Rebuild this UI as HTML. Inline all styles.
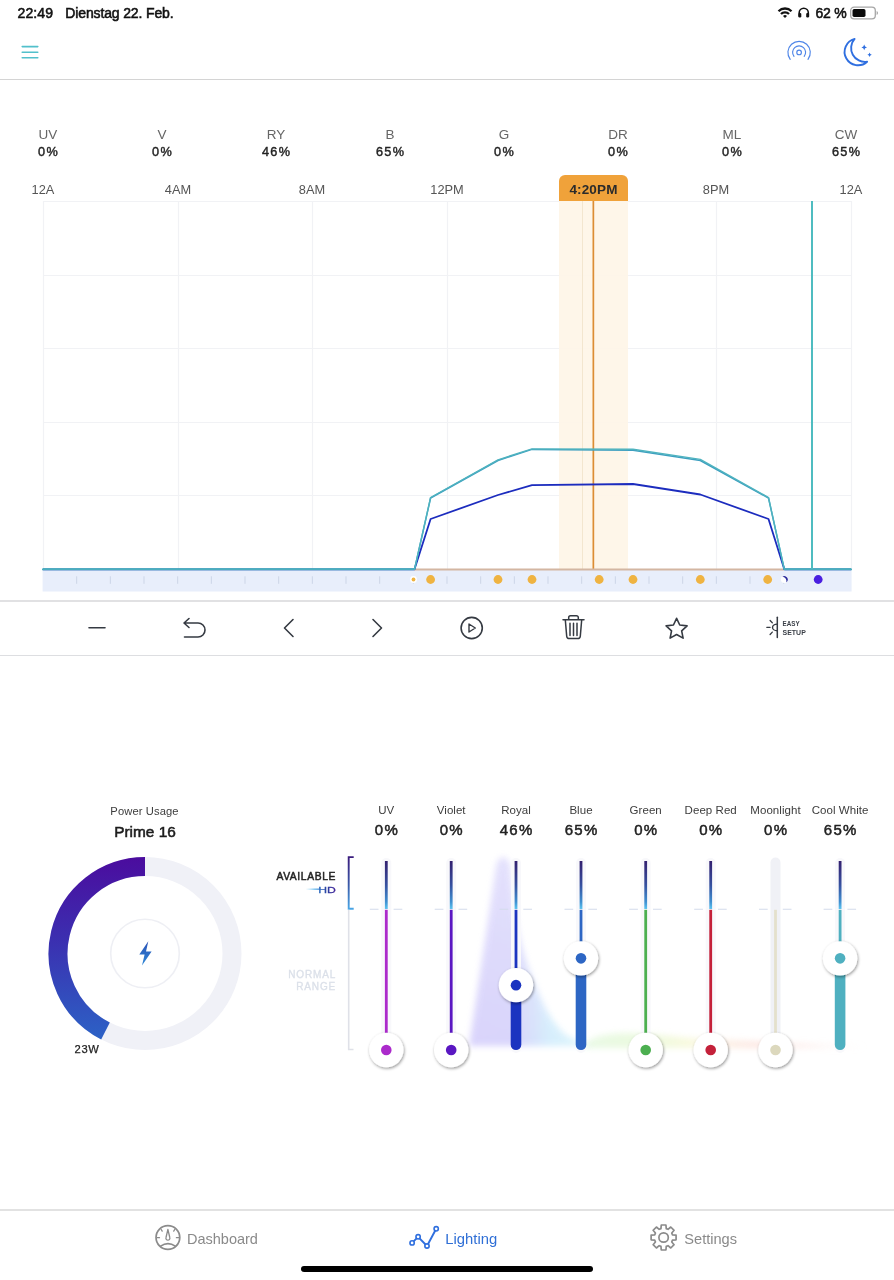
<!DOCTYPE html>
<html lang="de">
<head>
<meta charset="utf-8">
<title>Lighting</title>
<style>
html,body{margin:0;padding:0;background:#fff;}
body{width:894px;height:1280px;position:relative;overflow:hidden;font-family:"Liberation Sans",sans-serif;color:#222;}
.abs{position:absolute;}
.t{position:absolute;white-space:nowrap;line-height:1;}
.c{transform:translateX(-50%);}
.r{transform:translateX(-100%);}
.hline{position:absolute;left:0;width:894px;height:1px;background:#d9d9d9;}
.chl{font-size:13.5px;color:#666;}
.chv{font-size:12.700px;color:#222;-webkit-text-stroke:.42px #222;letter-spacing:1.400px;margin-left:.7px;}
.ax{font-size:12.800px;color:#555;}
.sl{font-size:11.500px;color:#3c3c3c;letter-spacing:.05px;}
.sv{font-size:15px;color:#222;-webkit-text-stroke:.5px #222;letter-spacing:1.300px;margin-left:.65px;}
.sb{-webkit-text-stroke:.55px currentColor;}
svg text{font-family:"Liberation Sans",sans-serif;}
</style>
</head>
<body>

<!-- status bar -->
<div class="t sb" style="left:17.5px;top:6px;font-size:14px;color:#111;letter-spacing:.12px">22:49</div>
<div class="t sb" style="left:65.3px;top:6px;font-size:14px;color:#111;letter-spacing:-.14px">Dienstag 22. Feb.</div>
<div class="t sb" style="left:815.5px;top:6px;font-size:14px;color:#111;letter-spacing:-.25px">62 %</div>
<svg class="abs" style="left:770px;top:0" width="124" height="26" viewBox="0 0 124 26">
  <g fill="none" stroke="#111" stroke-width="2.300">
    <path d="M8.5 11.2 A9.2 9.2 0 0 1 21.5 11.2"/>
    <path d="M11 14 A5.6 5.6 0 0 1 19 14"/>
  </g>
  <path d="M13 16 A2.9 2.9 0 0 1 17 16 L15 18.1 Z" fill="#111"/>
  <path d="M29.200 16.500 V12.800 A4.550 4.550 0 0 1 38.300 12.800 V16.500" fill="none" stroke="#111" stroke-width="1.600"/>
  <rect x="28.400" y="12.900" width="2.900" height="4.600" rx="1.200" fill="#111"/>
  <rect x="36.200" y="12.900" width="2.900" height="4.600" rx="1.200" fill="#111"/>
  <rect x="80.700" y="7.200" width="24.600" height="11.600" rx="3.400" fill="none" stroke="#a6a6a6" stroke-width="1.300"/>
  <rect x="82.500" y="9" width="13" height="8" rx="1.700" fill="#0a0a0a"/>
  <path d="M106.600 11.100 v3.800 a2 2 0 0 0 0 -3.800z" fill="#a3a3a3"/>
</svg>


<!-- header -->
<svg class="abs" style="left:20px;top:44px" width="20" height="16" viewBox="0 0 20 16">
  <path d="M2.200 2.600H17.800M2.200 8.200H17.800M2.200 13.800H17.800" stroke="#52c0cb" stroke-width="1.550" stroke-linecap="round"/>
</svg>
<svg class="abs" style="left:780px;top:30px" width="40" height="45" viewBox="780 30 40 45">
  <g fill="none" stroke="#4f86e8" stroke-width="1.150" stroke-linecap="round">
    <circle cx="799.100" cy="52.400" r="2.300"/>
    <path d="M794 56.400 A6.500 6.500 0 1 1 804.200 56.400"/>
    <path d="M790.200 59.300 A11.200 11.200 0 1 1 808 59.300"/>
  </g>
</svg>
<svg class="abs" style="left:835px;top:30px" width="45" height="45" viewBox="835 30 45 45">
  <path d="M854.600 38.900 A13.400 13.400 0 1 0 867.100 61.700 A13.800 13.800 0 0 1 854.600 38.900 Z" fill="none" stroke="#2f6fe0" stroke-width="1.900" stroke-linejoin="round"/>
  <path d="M864.200 44.600 l.9 1.900 1.900 .9 -1.900 .9 -.9 1.900 -.9 -1.900 -1.900 -.9 1.900 -.9z" fill="#2f6fe0"/>
  <path d="M869.600 52.600 l.7 1.500 1.500 .7 -1.500 .7 -.7 1.500 -.7 -1.500 -1.500 -.7 1.500 -.7z" fill="#2f6fe0"/>
</svg>
<div class="hline" style="top:79px;background:#d4d4d4"></div>

<!-- channel readouts -->
<div class="t c chl" style="left:48px;top:127.5px">UV</div><div class="t c chv" style="left:48px;top:146.100px">0%</div>
<div class="t c chl" style="left:162px;top:127.5px">V</div><div class="t c chv" style="left:162px;top:146.100px">0%</div>
<div class="t c chl" style="left:276px;top:127.5px">RY</div><div class="t c chv" style="left:276px;top:146.100px">46%</div>
<div class="t c chl" style="left:390px;top:127.5px">B</div><div class="t c chv" style="left:390px;top:146.100px">65%</div>
<div class="t c chl" style="left:504px;top:127.5px">G</div><div class="t c chv" style="left:504px;top:146.100px">0%</div>
<div class="t c chl" style="left:618px;top:127.5px">DR</div><div class="t c chv" style="left:618px;top:146.100px">0%</div>
<div class="t c chl" style="left:732px;top:127.5px">ML</div><div class="t c chv" style="left:732px;top:146.100px">0%</div>
<div class="t c chl" style="left:846px;top:127.5px">CW</div><div class="t c chv" style="left:846px;top:146.100px">65%</div>

<!-- chart -->
<svg class="abs" style="left:0;top:170px" width="894" height="430" viewBox="0 170 894 430">
  <g stroke="#f1f2f5" stroke-width="1.200" fill="none">
    <path d="M43 201.500H851M43 275.500H851M43 348.500H851M43 422.500H851M43 495.500H851"/>
    <path d="M43.500 201V569M178.500 201V569M312.500 201V569M447.500 201V569M582.500 201V569M716.500 201V569M851.500 201V569"/>
  </g>
  <rect x="42.600" y="570" width="809" height="21.500" fill="#e8eefb"/>
  <path d="M76.67 576.3v7.5M110.33 576.3v7.5M144 576.3v7.5M177.67 576.3v7.5M211.34 576.3v7.5M245 576.3v7.5M278.67 576.3v7.5M312.34 576.3v7.5M346 576.3v7.5M379.67 576.3v7.5M413.34 576.3v7.5M447 576.3v7.5M480.67 576.3v7.5M514.34 576.3v7.5M548 576.3v7.5M581.67 576.3v7.5M615.34 576.3v7.5M649.01 576.3v7.5M682.67 576.3v7.5M716.34 576.3v7.5M750.01 576.3v7.5M783.67 576.3v7.5M817.34 576.3v7.5" stroke="#ccd5e7" stroke-width="1"/>
  <path d="M559 201V181a6 6 0 0 1 6 -6h57a6 6 0 0 1 6 6V201Z" fill="#f0a23a"/>
  <rect x="559" y="201" width="69" height="368" fill="#fef5e7" fill-opacity=".92"/>
  <path d="M582.500 201V569" stroke="#f3e6cf" stroke-width="1"/>
  <rect x="592.500" y="201" width="1.700" height="368" fill="#dc8d34"/>
  <path d="M414 569.600H784" stroke="#d3b6a2" stroke-width="2"/>
  <g fill="none" stroke-linejoin="round" stroke-width="1.500">
    <path d="M43 569.300H414.500L430.600 519L498 495L532 485.200L633 484L700.300 494.500L768.500 519L784.300 569.300H851" stroke="#1c2cbe" stroke-width="1.800"/>
    <path d="M43 569.300H414.500L430.600 498L498 460.500L532 449.400L633 450.200L700.300 460.500L768.500 498L784.300 569.300H851" stroke="#3d9fc0"/>
    <path d="M43 569.300H414.500L430.600 497.500L498 459.800L532 448.900L633 449.200L700.300 459.400L768.500 497.500L784.300 569.300H851" stroke="#4fb3bf" stroke-width="1.400"/>
  </g>
  <path d="M42 569.300H414M784.500 569.300H852" stroke="#4aaebd" stroke-width="1.800"/>
  <rect x="811" y="201" width="2" height="368" fill="#4fbcc0"/>
  <g fill="#efb341">
    <circle cx="430.600" cy="579.500" r="4.400"/><circle cx="498" cy="579.500" r="4.400"/><circle cx="532" cy="579.500" r="4.400"/>
    <circle cx="599.200" cy="579.500" r="4.400"/><circle cx="633" cy="579.500" r="4.400"/><circle cx="700.300" cy="579.500" r="4.400"/><circle cx="767.700" cy="579.500" r="4.400"/>
  </g>
  <circle cx="413.500" cy="579.500" r="3.400" fill="#fff"/><circle cx="413.500" cy="579.500" r="1.900" fill="#efb341"/>
  <circle cx="784.300" cy="579.500" r="3.400" fill="#fff"/><path d="M784.300 576.100a3.400 3.400 0 0 1 0 6.800a4.400 4.400 0 0 0 0 -6.800z" fill="#2a2a9c" transform="rotate(-35 784.300 579.500)"/>
  <circle cx="818.200" cy="579.500" r="4.400" fill="#4a1fe0"/>
  <text x="569.400" y="193.700" font-size="13.500" font-weight="bold" fill="#2b2b2b" textLength="48" lengthAdjust="spacing">4:20PM</text>
</svg>

<div class="t c ax" style="left:43px;top:184px">12A</div>
<div class="t c ax" style="left:178px;top:184px">4AM</div>
<div class="t c ax" style="left:312px;top:184px">8AM</div>
<div class="t c ax" style="left:447px;top:184px">12PM</div>
<div class="t c ax" style="left:716px;top:184px">8PM</div>
<div class="t c ax" style="left:851px;top:184px">12A</div>

<!-- toolbar -->
<div class="hline" style="top:600.200px;height:1.500px;background:#e1e1e3"></div>
<div class="hline" style="top:654.800px;height:1.300px;background:#dddee1"></div>
<svg class="abs" style="left:0;top:602px" width="894" height="53" viewBox="0 602 894 53">
  <g fill="none" stroke="#353a42" stroke-width="1.600" stroke-linecap="round" stroke-linejoin="round">
    <path d="M89 627.800H105"/>
    <path d="M189 618.500l-5 4.500 5 4.500M184.500 623H198a7 7 0 0 1 0 14H184.500"/>
    <path d="M293 619.500l-8.500 8.500 8.500 8.500"/>
    <path d="M373 619.500l8.500 8.500 -8.500 8.500"/>
    <circle cx="471.700" cy="628" r="10.600"/>
    <path d="M469 624l6.300 4 -6.300 4z" stroke-width="1.400"/>
    <path d="M563 619.800H584M568.700 619.800v-2.300a1.800 1.800 0 0 1 1.800 -1.800h6a1.800 1.800 0 0 1 1.800 1.800v2.300M565.300 619.800l1.400 16.400a2.600 2.600 0 0 0 2.600 2.400h8.400a2.600 2.600 0 0 0 2.600 -2.400l1.400 -16.400M570 623.300v12.200M573.500 623.300v12.200M577 623.300v12.200" stroke-width="1.500"/>
    <path d="M676.600 618.300l3.150 6.700 7.350 .9 -5.450 5 1.450 7.250 -6.500 -3.650 -6.500 3.650 1.450 -7.250 -5.450 -5 7.350 -.9z"/>
    <path d="M777.300 617.200v20.400" stroke-width="1.500"/>
    <path d="M777.300 624.100a4.800 3.300 0 0 0 0 6.600" stroke-width="1.400"/>
    <path d="M770.100 627.300h-3.300M772.300 622.700l-2.200 -2.200M772.300 632.100l-2.200 2.400" stroke-width="1.300"/>
  </g>
  <text x="782.600" y="626.400" font-size="6.900" font-weight="bold" fill="#3a3f47" textLength="17" lengthAdjust="spacingAndGlyphs">EASY</text>
  <text x="782.600" y="634.600" font-size="6.900" font-weight="bold" fill="#3a3f47" textLength="23.200" lengthAdjust="spacingAndGlyphs">SETUP</text>
</svg>


<!-- power usage -->
<div class="t c" style="left:144.500px;top:805.800px;font-size:11.200px;color:#3c3c3c;letter-spacing:.1px">Power Usage</div>
<div class="t c" style="left:145px;top:824px;font-size:15.400px;color:#1c1c1c;-webkit-text-stroke:.55px #1c1c1c">Prime 16</div>
<svg class="abs" style="left:40px;top:848px" width="210" height="215" viewBox="40 848 210 215">
  <defs>
    <linearGradient id="pg" x1="0" y1="857" x2="0" y2="1040" gradientUnits="userSpaceOnUse">
      <stop offset="0" stop-color="#4b0c9e"/><stop offset=".45" stop-color="#3b2fb0"/><stop offset="1" stop-color="#2c62c6"/>
    </linearGradient>
    <linearGradient id="pg2" x1="0" y1="941" x2="0" y2="966" gradientUnits="userSpaceOnUse">
      <stop offset="0" stop-color="#2a4fb4"/><stop offset="1" stop-color="#2f8ad8"/>
    </linearGradient>
  </defs>
  <circle cx="145" cy="953.500" r="87" fill="none" stroke="#f0f1f7" stroke-width="19"/>
  <path d="M145 866.500 A87 87 0 0 0 105.500 1031" fill="none" stroke="url(#pg)" stroke-width="19"/>
  <circle cx="145" cy="953.500" r="34.300" fill="#fff" stroke="#eeeff4" stroke-width="1.600"/>
  <path d="M148.300 941.300l-9 13.300h5.300l-2.600 11 9.600 -14.200h-5.600z" fill="url(#pg2)"/>
</svg>
<div class="t c" style="left:87px;top:1043.500px;font-size:11.200px;color:#222;letter-spacing:.6px;-webkit-text-stroke:.25px #222">23W</div>


<!-- range labels -->
<div class="t r" style="left:336px;top:872.400px;font-size:10.300px;color:#222;letter-spacing:.62px;-webkit-text-stroke:.48px #222">AVAILABLE</div>
<svg class="abs" style="left:300px;top:880px" width="40" height="16" viewBox="300 880 40 16">
  <defs>
    <linearGradient id="hdg" x1="0" x2="1" y1="0" y2="0"><stop offset="0" stop-color="#8fd4f8" stop-opacity="0"/><stop offset=".6" stop-color="#55b4ee"/><stop offset="1" stop-color="#2a6fc4"/></linearGradient>
    <linearGradient id="hdt" x1="318" x2="336" y1="0" y2="0" gradientUnits="userSpaceOnUse"><stop offset="0" stop-color="#2a6fc4"/><stop offset=".5" stop-color="#2a3f9f"/><stop offset="1" stop-color="#46239a"/></linearGradient>
  </defs>
  <rect x="305.500" y="888.600" width="15" height="1.100" fill="url(#hdg)"/>
  <text x="318.200" y="892.600" font-size="9.800" fill="url(#hdt)" stroke="url(#hdt)" stroke-width=".3" textLength="17.600" lengthAdjust="spacingAndGlyphs">HD</text>
</svg>
<div class="t r" style="left:336.100px;top:969.500px;font-size:10px;color:#dbe0e9;letter-spacing:.85px;-webkit-text-stroke:.3px #dbe0e9">NORMAL</div>
<div class="t r" style="left:336.100px;top:982.200px;font-size:10px;color:#dbe0e9;letter-spacing:.85px;-webkit-text-stroke:.3px #dbe0e9">RANGE</div>

<div class="t c sl" style="left:386.3px;top:804.500px">UV</div><div class="t c sv" style="left:386.3px;top:822.400px">0%</div>
<div class="t c sl" style="left:451.2px;top:804.500px">Violet</div><div class="t c sv" style="left:451.2px;top:822.400px">0%</div>
<div class="t c sl" style="left:516px;top:804.500px">Royal</div><div class="t c sv" style="left:516px;top:822.400px">46%</div>
<div class="t c sl" style="left:581px;top:804.500px">Blue</div><div class="t c sv" style="left:581px;top:822.400px">65%</div>
<div class="t c sl" style="left:645.7px;top:804.500px">Green</div><div class="t c sv" style="left:645.7px;top:822.400px">0%</div>
<div class="t c sl" style="left:710.7px;top:804.500px">Deep Red</div><div class="t c sv" style="left:710.7px;top:822.400px">0%</div>
<div class="t c sl" style="left:775.5px;top:804.500px">Moonlight</div><div class="t c sv" style="left:775.5px;top:822.400px">0%</div>
<div class="t c sl" style="left:840.1px;top:804.500px">Cool White</div><div class="t c sv" style="left:840.1px;top:822.400px">65%</div>

<!-- sliders -->
<svg class="abs" style="left:340px;top:845px" width="554" height="240" viewBox="340 845 554 240">
  <defs>
    <linearGradient id="hd" x1="0" y1="861" x2="0" y2="909" gradientUnits="userSpaceOnUse">
      <stop offset="0" stop-color="#33206f"/><stop offset=".5" stop-color="#36509f"/><stop offset=".85" stop-color="#3f8fd0"/><stop offset="1" stop-color="#5cc4f0"/>
    </linearGradient>
    <linearGradient id="br" x1="0" y1="856" x2="0" y2="909" gradientUnits="userSpaceOnUse">
      <stop offset="0" stop-color="#3a1a7c"/><stop offset=".55" stop-color="#3a5aa8"/><stop offset="1" stop-color="#4aa6e6"/>
    </linearGradient>
    <filter id="ks" x="-50%" y="-50%" width="200%" height="200%">
      <feDropShadow dx=".8" dy="1.300" stdDeviation="1.400" flood-color="#000" flood-opacity=".42"/>
    </filter>
    <filter id="bl" x="-60%" y="-60%" width="220%" height="220%"><feGaussianBlur stdDeviation="3.200"/></filter>
    <filter id="bl2" x="-60%" y="-200%" width="220%" height="500%"><feGaussianBlur stdDeviation="3"/></filter>
    <linearGradient id="glowR" x1="468" y1="0" x2="600" y2="0" gradientUnits="userSpaceOnUse">
      <stop offset="0" stop-color="#d0c9fb"/><stop offset=".36" stop-color="#cfcbfb"/><stop offset=".62" stop-color="#cdeafc"/><stop offset=".85" stop-color="#d4f3fb"/><stop offset="1" stop-color="#e0f8f0" stop-opacity=".5"/>
    </linearGradient>
    <linearGradient id="glowT" x1="585" y1="0" x2="870" y2="0" gradientUnits="userSpaceOnUse">
      <stop offset="0" stop-color="#d8f6d0"/><stop offset=".2" stop-color="#daf5c4"/><stop offset=".36" stop-color="#f3f6c4"/><stop offset=".5" stop-color="#fbe2cf"/><stop offset=".62" stop-color="#fbd0c8"/><stop offset=".8" stop-color="#fbdcd6" stop-opacity=".7"/><stop offset="1" stop-color="#fbe6e0" stop-opacity="0"/>
    </linearGradient>
    <linearGradient id="fadeV" x1="0" y1="856" x2="0" y2="1046" gradientUnits="userSpaceOnUse">
      <stop offset="0" stop-color="#fff" stop-opacity=".3"/><stop offset=".5" stop-color="#fff" stop-opacity=".15"/><stop offset="1" stop-color="#fff" stop-opacity="0"/>
    </linearGradient>
  </defs>
  <g filter="url(#bl)" opacity=".8">
    <path d="M469 1046 L496.500 864 Q503 850 510 864 L514.500 910 Q521 950 530 972 Q539 996 547 1011 Q556 1027 566 1035 Q578 1043 600 1046 Z" fill="url(#glowR)"/>
    <path d="M469 1046 L496.500 864 Q503 850 510 864 L514.500 910 Q521 950 530 972 Q539 996 547 1011 Q556 1027 566 1035 Q578 1043 600 1046 Z" fill="url(#fadeV)"/>
  </g>
  <g filter="url(#bl2)" opacity=".55">
    <path d="M585 1046 Q590 1034 625 1033 Q660 1034 690 1038 Q740 1041 790 1043 L865 1046 L865 1048 L585 1048Z" fill="url(#glowT)"/>
  </g>
  <path d="M353.700 857.100H348.700V908.700H353.700" fill="none" stroke="url(#br)" stroke-width="1.900"/>
  <path d="M353.500 1049.500H348.700V909.700" fill="none" stroke="#dfe1e8" stroke-width="1.600"/>
  <path d="M369.8 909.300H378.5M393.6 909.300H402.3" stroke="#d3dbeb" stroke-width="1.100"/>
  <rect x="381.3" y="858" width="10" height="195" rx="5" fill="#f8f8fb"/>
  <rect x="384.9" y="861" width="2.800" height="48" fill="url(#hd)"/>
  <rect x="384.9" y="909.800" width="2.800" height="140.2" fill="#ab2acb"/>
  <circle cx="386.3" cy="1050" r="17.200" fill="#fff" filter="url(#ks)"/>
  <circle cx="386.3" cy="1050" r="5.300" fill="#ab2acb"/>
  <path d="M434.7 909.300H443.4M458.5 909.300H467.2" stroke="#d3dbeb" stroke-width="1.100"/>
  <rect x="446.2" y="858" width="10" height="195" rx="5" fill="#f8f8fb"/>
  <rect x="449.8" y="861" width="2.800" height="48" fill="url(#hd)"/>
  <rect x="449.8" y="909.800" width="2.800" height="140.2" fill="#5a17c2"/>
  <circle cx="451.2" cy="1050" r="17.200" fill="#fff" filter="url(#ks)"/>
  <circle cx="451.2" cy="1050" r="5.300" fill="#5a17c2"/>
  <path d="M499.5 909.300H508.2M523.3 909.300H532" stroke="#d3dbeb" stroke-width="1.100"/>
  <rect x="511" y="858" width="10" height="195" rx="5" fill="#f8f8fb"/>
  <rect x="514.6" y="861" width="2.800" height="48" fill="url(#hd)"/>
  <rect x="514.6" y="909.800" width="2.800" height="75.34" fill="#1b34c0"/>
  <path d="M510.7 985.14V1044.7a5.300 5.300 0 0 0 10.600 0V985.14z" fill="#1b34c0"/>
  <circle cx="516" cy="985.14" r="17.200" fill="#fff" filter="url(#ks)"/>
  <circle cx="516" cy="985.14" r="5.300" fill="#1b34c0"/>
  <path d="M564.5 909.300H573.2M588.3 909.300H597" stroke="#d3dbeb" stroke-width="1.100"/>
  <rect x="576" y="858" width="10" height="195" rx="5" fill="#f8f8fb"/>
  <rect x="579.6" y="861" width="2.800" height="48" fill="url(#hd)"/>
  <rect x="579.6" y="909.800" width="2.800" height="48.55" fill="#2d66c4"/>
  <path d="M575.7 958.35V1044.7a5.300 5.300 0 0 0 10.600 0V958.35z" fill="#2d66c4"/>
  <circle cx="581" cy="958.35" r="17.200" fill="#fff" filter="url(#ks)"/>
  <circle cx="581" cy="958.35" r="5.300" fill="#2d66c4"/>
  <path d="M629.2 909.300H637.9M653 909.300H661.7" stroke="#d3dbeb" stroke-width="1.100"/>
  <rect x="640.7" y="858" width="10" height="195" rx="5" fill="#f8f8fb"/>
  <rect x="644.3" y="861" width="2.800" height="48" fill="url(#hd)"/>
  <rect x="644.3" y="909.800" width="2.800" height="140.2" fill="#4caf50"/>
  <circle cx="645.7" cy="1050" r="17.200" fill="#fff" filter="url(#ks)"/>
  <circle cx="645.7" cy="1050" r="5.300" fill="#4caf50"/>
  <path d="M694.2 909.300H702.9M718 909.300H726.7" stroke="#d3dbeb" stroke-width="1.100"/>
  <rect x="705.7" y="858" width="10" height="195" rx="5" fill="#f8f8fb"/>
  <rect x="709.3" y="861" width="2.800" height="48" fill="url(#hd)"/>
  <rect x="709.3" y="909.800" width="2.800" height="140.2" fill="#c4213a"/>
  <circle cx="710.7" cy="1050" r="17.200" fill="#fff" filter="url(#ks)"/>
  <circle cx="710.7" cy="1050" r="5.300" fill="#c4213a"/>
  <path d="M759 909.300H767.7M782.8 909.300H791.5" stroke="#d3dbeb" stroke-width="1.100"/>
  <rect x="770.5" y="857.500" width="10" height="195.5" rx="5" fill="#f0f1f6"/>
  <rect x="774.1" y="909.800" width="2.800" height="140.2" fill="#e4e0cc"/>
  <circle cx="775.5" cy="1050" r="17.200" fill="#fff" filter="url(#ks)"/>
  <circle cx="775.5" cy="1050" r="5.300" fill="#dcd8bd"/>
  <path d="M823.6 909.300H832.3M847.4 909.300H856.1" stroke="#d3dbeb" stroke-width="1.100"/>
  <rect x="835.1" y="858" width="10" height="195" rx="5" fill="#f8f8fb"/>
  <rect x="838.7" y="861" width="2.800" height="48" fill="url(#hd)"/>
  <rect x="838.7" y="909.800" width="2.800" height="48.55" fill="#4fb0c0"/>
  <path d="M834.8 958.35V1044.7a5.300 5.300 0 0 0 10.600 0V958.35z" fill="#4fb0c0"/>
  <circle cx="840.1" cy="958.35" r="17.200" fill="#fff" filter="url(#ks)"/>
  <circle cx="840.1" cy="958.35" r="5.300" fill="#4fb0c0"/>
</svg>

<!-- bottom nav -->
<div class="hline" style="top:1209.300px;height:1.500px;background:#e2e2e2"></div>
<div class="t" style="left:187px;top:1231.800px;font-size:14.500px;color:#8a8a8a">Dashboard</div>
<div class="t" style="left:445.300px;top:1231.800px;font-size:14.800px;color:#2f6fd6">Lighting</div>
<div class="t" style="left:684.300px;top:1231.800px;font-size:14.600px;color:#8a8a8a">Settings</div>
<svg class="abs" style="left:150px;top:1218px" width="36" height="40" viewBox="150 1218 36 40">
  <g fill="none" stroke="#8b8b8b" stroke-width="1.750" stroke-linecap="round" stroke-linejoin="round">
    <circle cx="167.900" cy="1237.400" r="11.850"/>
    <path d="M160.600 1246.100Q168 1241 175.300 1246.100"/>
    <path d="M167.900 1229.500l-1.900 8a2 2 0 1 0 3.800 0z" stroke-width="1.300"/>
    <path d="M157.300 1237.700h2.200M176.400 1237.700h2.200M161.200 1229.500l1 1.600M174.700 1229.500l-1 1.600" stroke-width="1.300"/>
  </g>
</svg>
<svg class="abs" style="left:404px;top:1220px" width="40" height="34" viewBox="404 1220 40 34">
  <path d="M412.100 1242.900L418.100 1236.800L427 1246L436.200 1228.800" fill="none" stroke="#2f6fde" stroke-width="1.900" stroke-linecap="round" stroke-linejoin="round"/>
  <g fill="#fff" stroke="#2f6fde" stroke-width="1.600">
    <circle cx="412.100" cy="1242.900" r="2.150"/><circle cx="418.100" cy="1236.800" r="2.150"/><circle cx="427" cy="1246" r="2.150"/><circle cx="436.200" cy="1228.800" r="2.150"/>
  </g>
</svg>
<svg class="abs" style="left:646px;top:1220px" width="36" height="36" viewBox="646 1220 36 36">
  <path d="M661.27 1225.02L665.93 1225.02L666.26 1228.59L668.02 1229.32L670.78 1227.02L674.08 1230.32L671.78 1233.08L672.51 1234.84L676.08 1235.17L676.08 1239.83L672.51 1240.16L671.78 1241.92L674.08 1244.68L670.78 1247.98L668.02 1245.68L666.26 1246.41L665.93 1249.98L661.27 1249.98L660.94 1246.41L659.18 1245.68L656.42 1247.98L653.12 1244.68L655.42 1241.92L654.69 1240.16L651.12 1239.83L651.12 1235.17L654.69 1234.84L655.42 1233.08L653.12 1230.32L656.42 1227.02L659.18 1229.32L660.94 1228.59Z" fill="none" stroke="#8b8b8b" stroke-width="1.700" stroke-linejoin="round"/>
  <circle cx="663.600" cy="1237.500" r="4.700" fill="none" stroke="#8b8b8b" stroke-width="1.700"/>
</svg>
<div class="abs" style="left:300.800px;top:1266.200px;width:292.500px;height:5.600px;border-radius:3px;background:#000"></div>

</body>
</html>
